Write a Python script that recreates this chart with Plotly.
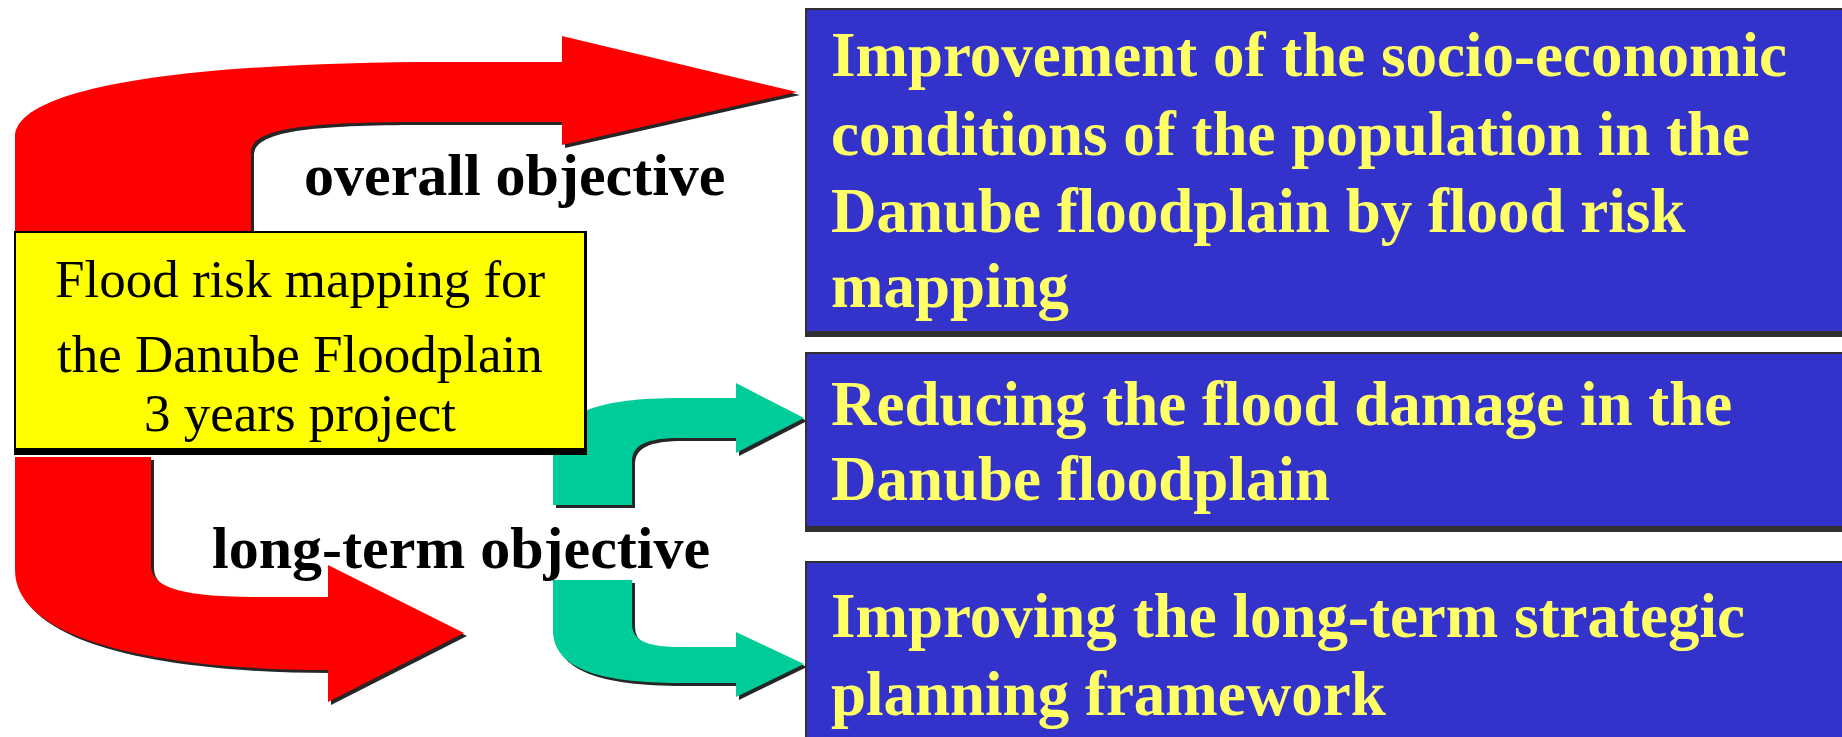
import plotly.graph_objects as go

W, H = 1842, 737
RED = "#FF0000"
GREEN = "#00CC99"
BLUE = "#3333CC"
YELLOW = "#FFFF00"
TEXT_YELLOW = "#FFFF66"
SHADOW = "#262626"

# ---- text content ----
project_lines = ["Flood risk mapping for", "the Danube Floodplain", "3 years project"]
objective_labels = ["overall objective", "long-term objective"]
goal_texts = [
    ["Improvement of the socio-economic",
     "conditions of the population in the",
     "Danube floodplain by flood risk",
     "mapping"],
    ["Reducing the flood damage in the",
     "Danube floodplain"],
    ["Improving the long-term strategic",
     "planning framework"],
]

# ---- diagram geometry (pixel units, y downward) ----
red_top = [("M", 15, 232), ("L", 15, 137), ("C", 15, 90, 170, 62, 450, 62), ("L", 562, 62),
           ("L", 562, 36), ("L", 797, 92), ("L", 562, 145), ("L", 562, 122), ("L", 430, 122),
           ("C", 320, 122, 251, 126, 251, 152), ("L", 251, 232), ("Z",)]
red_bottom = [("M", 15, 457), ("L", 151, 457), ("L", 151, 565), ("C", 151, 592, 195, 597, 265, 597),
              ("L", 328, 597), ("L", 328, 565), ("L", 464, 633), ("L", 328, 702), ("L", 328, 670),
              ("C", 175, 670, 15, 645, 15, 570), ("Z",)]
green_top = [("M", 553, 505), ("L", 553, 455), ("C", 553, 412, 600, 398, 680, 398), ("L", 736, 398),
             ("L", 736, 383), ("L", 804, 418), ("L", 736, 453), ("L", 736, 438), ("L", 682, 438),
             ("C", 645, 438, 632, 445, 632, 462), ("L", 632, 505), ("Z",)]
green_bottom = [("M", 553, 580), ("L", 632, 580), ("L", 632, 623), ("C", 632, 640, 645, 647, 682, 647),
                ("L", 736, 647), ("L", 736, 632), ("L", 804, 664), ("L", 736, 697), ("L", 736, 683),
                ("L", 680, 683), ("C", 598, 683, 553, 668, 553, 630), ("Z",)]

project_box = (14, 231, 587, 455)
goal_boxes = [(805, 8, 1850, 337), (805, 352, 1850, 532), (805, 561, 1850, 745)]

project_text_y = [279, 354, 413]
goal_text_y = [[55, 134, 211, 286], [404, 479], [616, 694]]
label_pos = [(515, 175), (461, 548)]


def path_str(segs, dx=0, dy=0):
    out = []
    for s in segs:
        cmd = s[0]
        if cmd == "Z":
            out.append("Z")
            continue
        nums = list(s[1:])
        pts = []
        for i in range(0, len(nums), 2):
            pts.append(f"{nums[i] + dx},{nums[i + 1] + dy}")
        out.append(cmd + " " + " ".join(pts))
    return " ".join(out)


shapes = []
for segs, col in [(red_top, RED), (red_bottom, RED), (green_top, GREEN), (green_bottom, GREEN)]:
    shapes.append(dict(type="path", path=path_str(segs, 3, 3), fillcolor=SHADOW,
                       line=dict(width=0), layer="above"))
    shapes.append(dict(type="path", path=path_str(segs), fillcolor=col,
                       line=dict(width=0), layer="above"))

# project box
x0, y0, x1, y1 = project_box
shapes.append(dict(type="rect", x0=x0, y0=y0, x1=x1, y1=y1, fillcolor="#000000",
                   line=dict(width=0), layer="above"))
shapes.append(dict(type="rect", x0=x0 + 2, y0=y0 + 2, x1=x1 - 3, y1=y1 - 7, fillcolor=YELLOW,
                   line=dict(width=0), layer="above"))

# goal boxes
for (x0, y0, x1, y1) in goal_boxes:
    shapes.append(dict(type="rect", x0=x0, y0=y0, x1=x1, y1=y1, fillcolor="#303030",
                       line=dict(width=0), layer="above"))
    shapes.append(dict(type="rect", x0=x0 + 2, y0=y0 + 2, x1=x1, y1=y1 - 6, fillcolor=BLUE,
                       line=dict(width=0), layer="above"))

annotations = []
for txt, y in zip(project_lines, project_text_y):
    annotations.append(dict(x=300, y=y, text=txt, showarrow=False, xanchor="center", yanchor="middle",
                            font=dict(family="Liberation Serif", size=53, color="#000000")))
for txt, (x, y) in zip(objective_labels, label_pos):
    annotations.append(dict(x=x, y=y, text=f"<b>{txt}</b>", showarrow=False, xanchor="center",
                            yanchor="middle",
                            font=dict(family="Liberation Serif", size=60, color="#000000")))
for lines, ys in zip(goal_texts, goal_text_y):
    for txt, y in zip(lines, ys):
        annotations.append(dict(x=829, y=y, text=f"<b>{txt}</b>", showarrow=False, xanchor="left",
                                yanchor="middle",
                                font=dict(family="Liberation Serif", size=63, color=TEXT_YELLOW)))

fig = go.Figure()
fig.add_trace(go.Scatter(x=[0, W], y=[0, H], mode="markers", marker=dict(opacity=0),
                         hoverinfo="skip", showlegend=False))
fig.update_layout(
    width=W, height=H, margin=dict(l=0, r=0, t=0, b=0),
    paper_bgcolor="white", plot_bgcolor="white",
    xaxis=dict(range=[0, W], visible=False, fixedrange=True),
    yaxis=dict(range=[H, 0], visible=False, fixedrange=True),
    shapes=shapes, annotations=annotations, showlegend=False,
)
fig.write_html("out.html", config={"displayModeBar": False},
               post_script="document.body.style.margin='0';document.body.style.overflow='hidden';")
